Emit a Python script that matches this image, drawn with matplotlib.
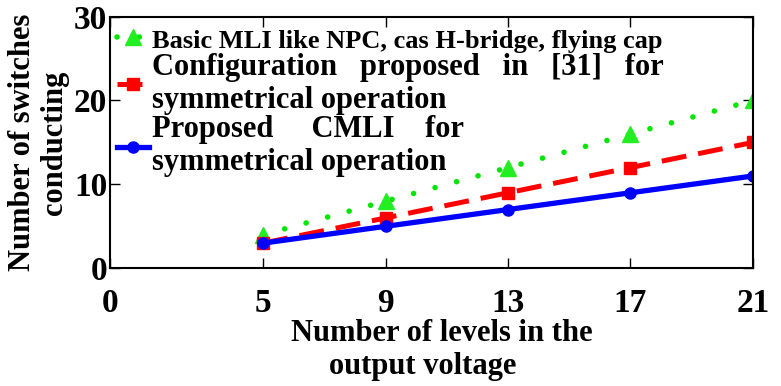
import matplotlib.pyplot as plt

# levels in the output voltage vs. number of conducting switches
levels = [5, 9, 13, 17, 21]
basic_mli = [4, 8, 12, 16, 20]
config_31 = [3, 6, 9, 12, 15]
proposed_cmli = [3, 5, 7, 9, 11]

x_ticks = [0, 5, 9, 13, 17, 21]
y_ticks = [0, 10, 20, 30]

plt.rcParams['font.family'] = 'Liberation Serif'
plt.rcParams['font.weight'] = 'bold'

fig = plt.figure(figsize=(7.81, 3.86), dpi=100)
ax = fig.add_axes([0.141, 0.305, 0.823, 0.652])

ax.plot(levels, basic_mli, color='#00e600', linestyle=(0, (0.01, 4.0)), lw=4.0,
        dash_capstyle='round', marker='^', markersize=11, markerfacecolor='#22ee22',
        markeredgecolor='#22ee22',
        label='Basic MLI like NPC, cas H-bridge, flying cap')
ax.plot(levels, config_31, color='#ff0000', linestyle=(0, (5, 2.4)), lw=3.6,
        marker='s', markersize=8,
        label='Configuration   proposed   in   [31]   for\nsymmetrical operation')
ax.plot(levels, proposed_cmli, color='#0000ff', linestyle='-', lw=3.8,
        marker='o', markersize=8,
        label='Proposed     CMLI    for\nsymmetrical operation')

ax.set_xlim(0, 21)
ax.set_ylim(0, 30)
ax.set_xticks(x_ticks)
ax.set_yticks(y_ticks)
ax.tick_params(direction='in', length=7, width=1, top=True, right=True,
               labelsize=24)
ax.tick_params(axis='x', pad=14)
ax.tick_params(axis='y', pad=2)
for s in ax.spines.values():
    s.set_linewidth(1.5)

ax.set_xlabel('Number of levels in the\noutput voltage     ', fontsize=22,
              fontweight='bold', linespacing=1.2)
ax.xaxis.set_label_coords(0.516, -0.2, transform=ax.transAxes)
ax.xaxis.label.set_va('top')
ax.set_ylabel('Number of switches\nconducting', fontsize=22,
              fontweight='bold', linespacing=1.1, labelpad=4)

leg = ax.legend(loc='upper left', bbox_to_anchor=(-0.008, 1.01), frameon=False,
                fontsize=22, handlelength=1.05, handletextpad=0.1,
                borderaxespad=0.0, labelspacing=0.0)
leg.get_texts()[0].set_fontsize(19)
for t in leg.get_texts():
    t.set_linespacing(1.2)

fig.savefig('out.png', dpi=100)
